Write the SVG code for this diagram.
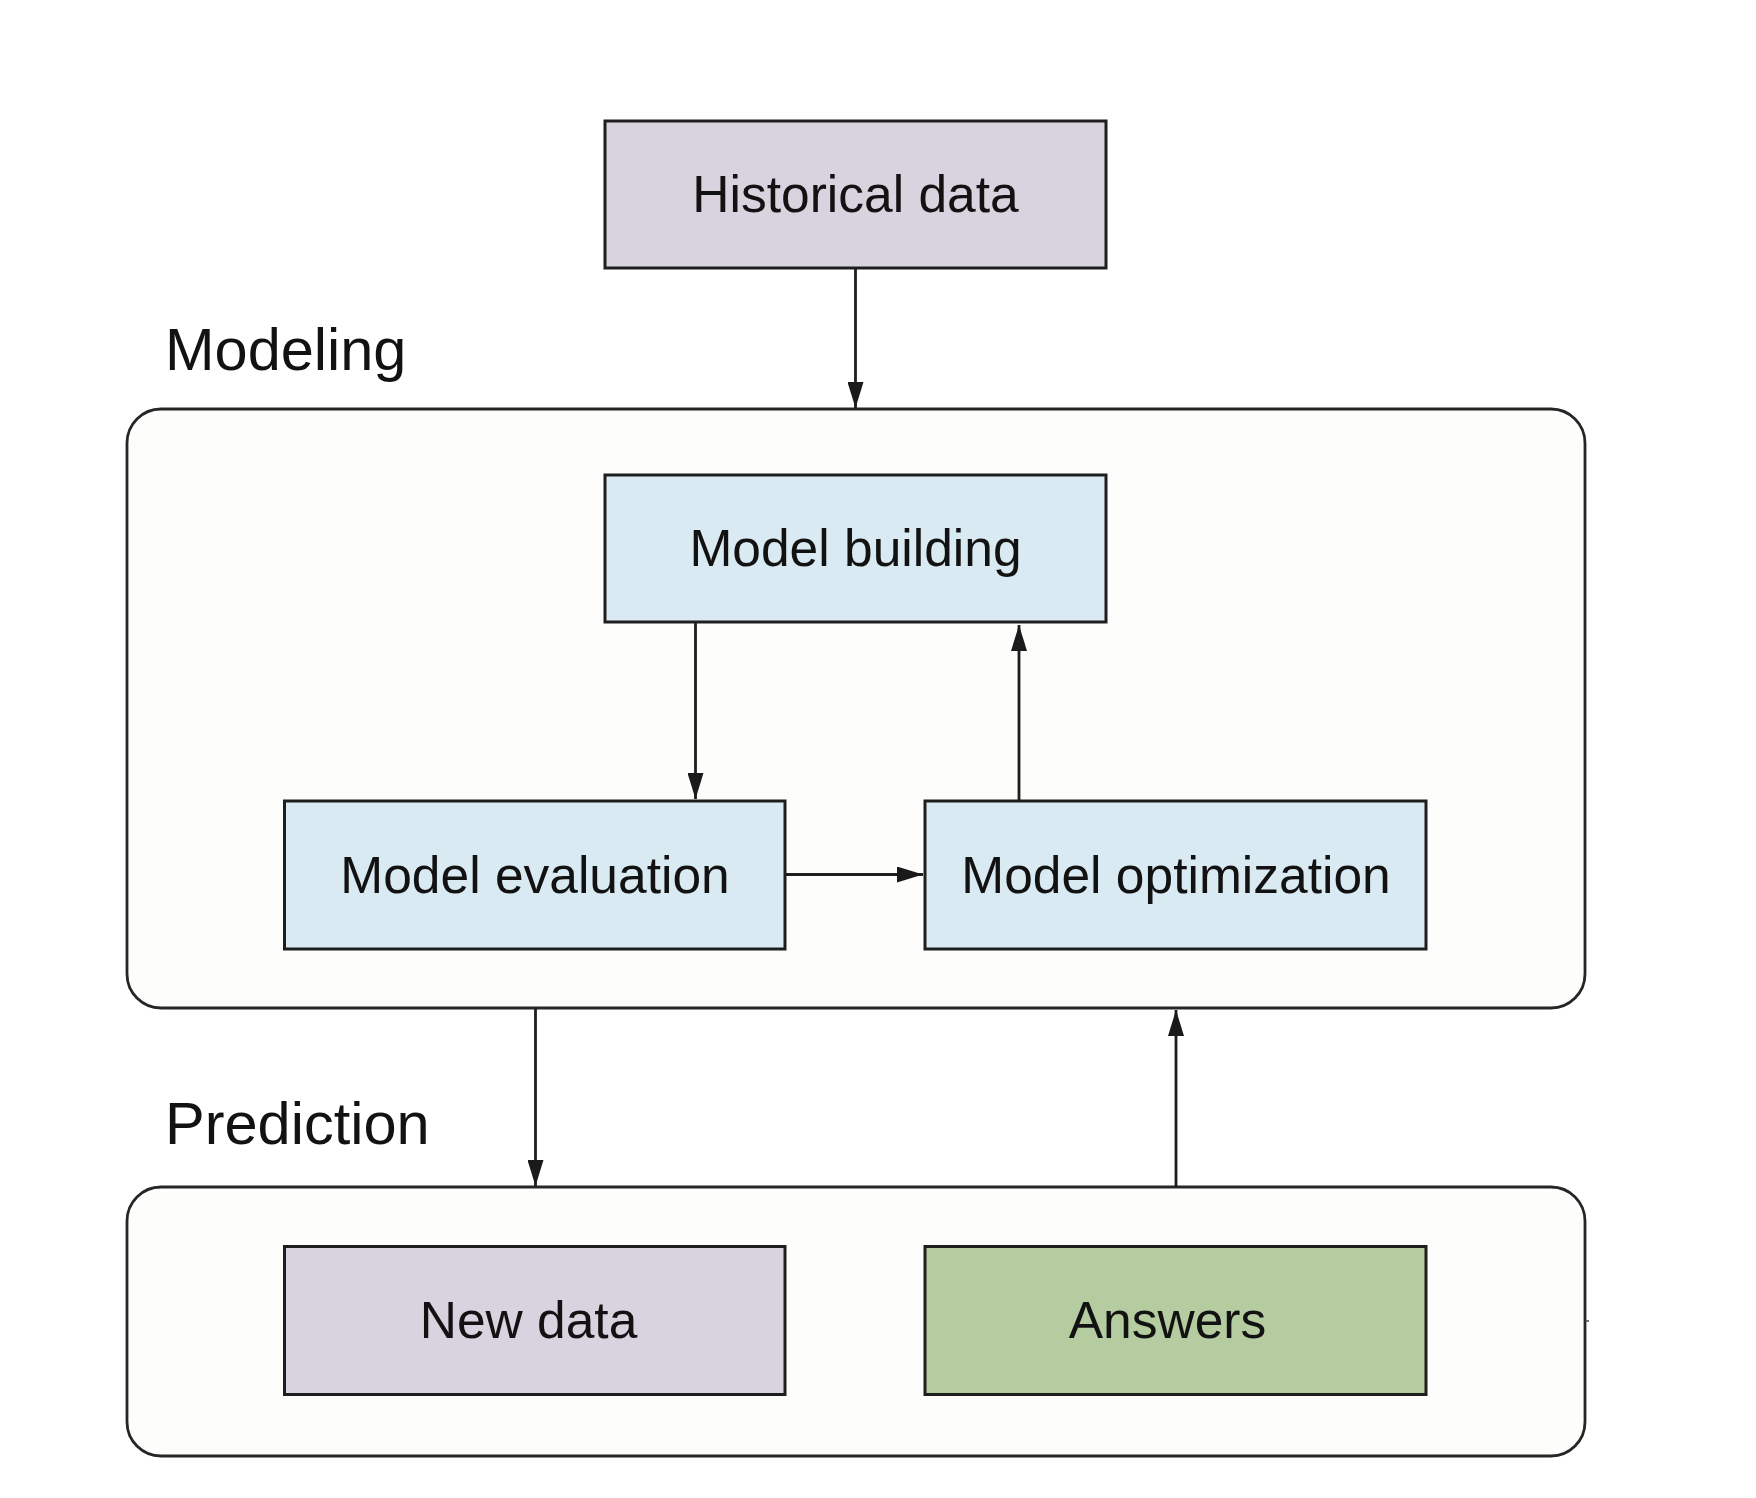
<svg xmlns="http://www.w3.org/2000/svg" width="1756" height="1498" viewBox="0 0 1756 1498">
  <style>
    .box { stroke: #1e1e1e; stroke-width: 3; }
    .data { fill: #d9d3e0; }
    .model { fill: #d9eaf3; }
    .answer { fill: #b5cca0; }
    .frame { fill: #fdfdfb; stroke: #262626; stroke-width: 2.8; }
    .lbl { font-family: "Liberation Sans", Arial, sans-serif; font-size: 51.5px; fill: #121212; text-anchor: middle; }
    .title { font-family: "Liberation Sans", Arial, sans-serif; font-size: 59.5px; fill: #121212; }
    .wire { stroke: #1e1e1e; stroke-width: 2.8; fill: none; marker-end: url(#head); }
  </style>
  <defs>
    <marker id="head" markerUnits="userSpaceOnUse" viewBox="0 0 26 16" refX="26" refY="8" markerWidth="26" markerHeight="16" orient="auto">
      <path d="M0,0 L26,8 L0,16 Z" fill="#1a1a1a"/>
    </marker>
  </defs>

  <rect width="1756" height="1498" fill="#ffffff"/>

  <!-- section labels -->
  <text class="title" x="165" y="370">Modeling</text>
  <text class="title" x="165" y="1144">Prediction</text>

  <!-- containers -->
  <g id="modeling">
    <rect class="frame" x="127" y="409" width="1458" height="599" rx="34" ry="34"/>
  </g>
  <g id="prediction">
    <rect class="frame" x="127" y="1187" width="1458" height="269" rx="34" ry="34"/>
    <line x1="1585" y1="1321" x2="1589" y2="1321" stroke="#444" stroke-width="1.5"/>
  </g>

  <!-- nodes -->
  <g id="historical-data">
    <rect class="box data" x="605" y="121" width="501" height="147"/>
    <text class="lbl" x="855.5" y="212">Historical data</text>
  </g>
  <g id="model-building">
    <rect class="box model" x="605" y="475" width="501" height="147"/>
    <text class="lbl" x="855.5" y="566">Model building</text>
  </g>
  <g id="model-evaluation">
    <rect class="box model" x="284.5" y="801" width="500.5" height="148"/>
    <text class="lbl" x="535" y="893">Model evaluation</text>
  </g>
  <g id="model-optimization">
    <rect class="box model" x="925" y="801" width="501" height="148"/>
    <text class="lbl" x="1176" y="893">Model optimization</text>
  </g>
  <g id="new-data">
    <rect class="box data" x="284.5" y="1246.5" width="500.5" height="148"/>
    <text class="lbl" x="528.5" y="1338">New data</text>
  </g>
  <g id="answers">
    <rect class="box answer" x="925" y="1246.5" width="501" height="148"/>
    <text class="lbl" x="1167.5" y="1338">Answers</text>
  </g>

  <!-- connectors -->
  <g id="connectors">
    <line class="wire" x1="855.5" y1="268" x2="855.5" y2="408"/>
    <line class="wire" x1="695.5" y1="622" x2="695.5" y2="799"/>
    <line class="wire" x1="1019" y1="801" x2="1019" y2="625"/>
    <line class="wire" x1="785" y1="874.5" x2="923" y2="874.5"/>
    <line class="wire" x1="535.5" y1="1008" x2="535.5" y2="1186"/>
    <line class="wire" x1="1176" y1="1187" x2="1176" y2="1010"/>
  </g>
</svg>
